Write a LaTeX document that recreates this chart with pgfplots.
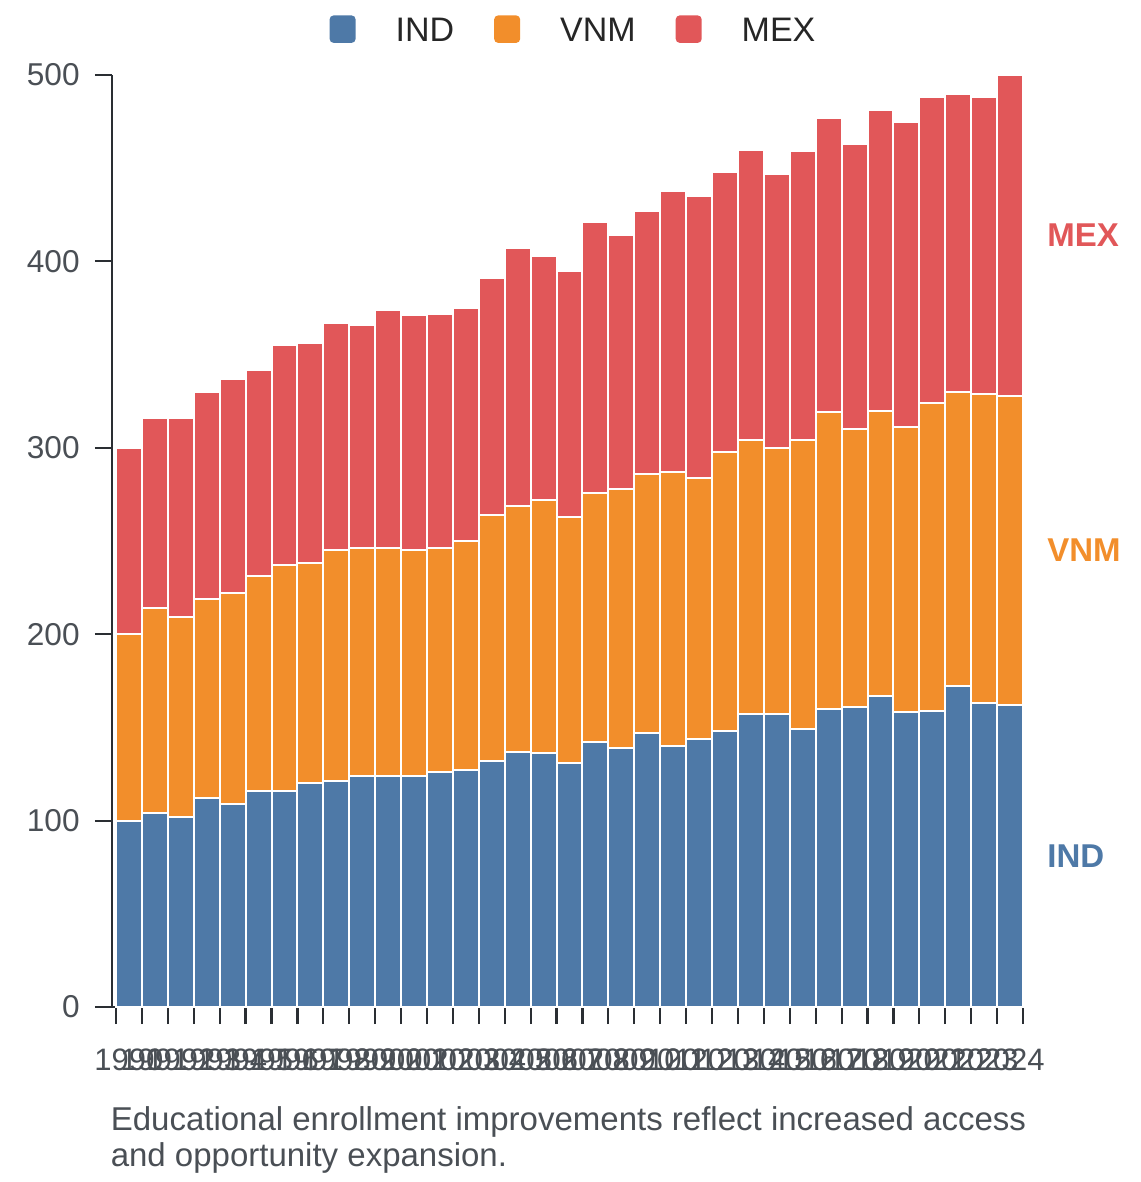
\documentclass[border=0pt]{standalone}
\usepackage{fontspec}
\setmainfont{Liberation Sans}
\usepackage{pgfplots}
\usepackage{pgfplotstable}
\pgfplotsset{compat=1.18}
\definecolor{cind}{HTML}{4E79A7}
\definecolor{cvnm}{HTML}{F28E2B}
\definecolor{cmex}{HTML}{E15759}
\definecolor{labgray}{HTML}{4A4F55}
\definecolor{axdark}{HTML}{2A2E33}

\pgfplotstableread{
x year ind vnm mex
0 1990 100 100 100
1 1991 104 110 102
2 1992 102 107 107
3 1993 112 107 111
4 1994 109 113 115
5 1995 116 115 111
6 1996 116 121 118
7 1997 120 118 118
8 1998 121 124 122
9 1999 124 122 120
10 2000 124 122 128
11 2001 124 121 126
12 2002 126 120 126
13 2003 127 123 125
14 2004 132 132 127
15 2005 137 132 138
16 2006 136 136 131
17 2007 131 132 132
18 2008 142 134 145
19 2009 139 139 136
20 2010 147 139 141
21 2011 140 147 151
22 2012 144 140 151
23 2013 148 150 150
24 2014 157 147 156
25 2015 157 143 147
26 2016 149 155 155
27 2017 160 159 158
28 2018 161 149 153
29 2019 167 153 161
30 2020 158 153 164
31 2021 159 165 164
32 2022 172 158 160
33 2023 163 166 159
34 2024 162 166 172
}\datatable

\begin{document}
\begin{tikzpicture}
\path[use as bounding box] (-56pt,-87.5pt) rectangle (514pt,503.5pt);
\begin{axis}[
  scale only axis, width=455.5pt, height=466pt,
  xmin=-0.655, xmax=34.5, ymin=0, ymax=500,
  ybar stacked, bar width=1,
  axis x line*=bottom, axis y line*=left,
  axis line style={axdark, line width=1.4pt, -},
  tick align=outside, major tick length=8.5pt,
  tick style={axdark, line width=1.1pt},
  xtick={-0.5,0.5,...,34.5}, xticklabels={},
  extra x ticks={0,1,...,34},
  extra x tick labels={1990,1991,1992,1993,1994,1995,1996,1997,1998,1999,2000,2001,2002,2003,2004,2005,2006,2007,2008,2009,2010,2011,2012,2013,2014,2015,2016,2017,2018,2019,2020,2021,2022,2023,2024},
  extra x tick style={tick style={draw=none}},
  ytick={0,100,...,500},
  /pgf/number format/assume math mode=true,
  yticklabel style={font=\fontsize{15.8}{18}\selectfont, text=labgray, inner sep=0pt, anchor=east, xshift=-7.5pt},
  xticklabel style={font=\fontsize{15.5}{18}\selectfont, text=labgray, inner sep=0pt, anchor=north, yshift=-12pt},
  clip=false,
  legend style={at={(axis description cs:0.5,1)}, anchor=center, yshift=22.5pt, xshift=2.5pt,
    draw=none, fill=none, font=\fontsize{17}{20}\selectfont, text=black!85,
    nodes={inner sep=0pt}, column sep=20pt},
  legend columns=3,
  legend image code/.code={\draw[#1, draw=none, rounded corners=2pt] (0pt,-5.75pt) rectangle (13pt,8pt);},
]
\addplot[fill=cind, draw=white, line width=1pt] table[x=x,y=ind]{\datatable};
\addplot[fill=cvnm, draw=white, line width=1pt] table[x=x,y=vnm]{\datatable};
\addplot[fill=cmex, draw=white, line width=1pt] table[x=x,y=mex]{\datatable};
\legend{IND,VNM,MEX}
\node[anchor=west, inner sep=0pt, xshift=12pt, font=\bfseries\fontsize{16.5}{18}\selectfont, text=cmex] at (axis cs:34.5,414) {MEX};
\node[anchor=west, inner sep=0pt, xshift=12pt, font=\bfseries\fontsize{16.5}{18}\selectfont, text=cvnm] at (axis cs:34.5,245) {VNM};
\node[anchor=west, inner sep=0pt, xshift=12pt, font=\bfseries\fontsize{16.5}{18}\selectfont, text=cind] at (axis cs:34.5,81) {IND};
\end{axis}
\node[anchor=base west, inner sep=0pt, font=\fontsize{16.5}{18}\selectfont, text=labgray] at (-0.8pt,-61.5pt) {Educational enrollment improvements reflect increased access};
\node[anchor=base west, inner sep=0pt, font=\fontsize{16.5}{18}\selectfont, text=labgray] at (-0.8pt,-79.5pt) {and opportunity expansion.};
\end{tikzpicture}
\end{document}
